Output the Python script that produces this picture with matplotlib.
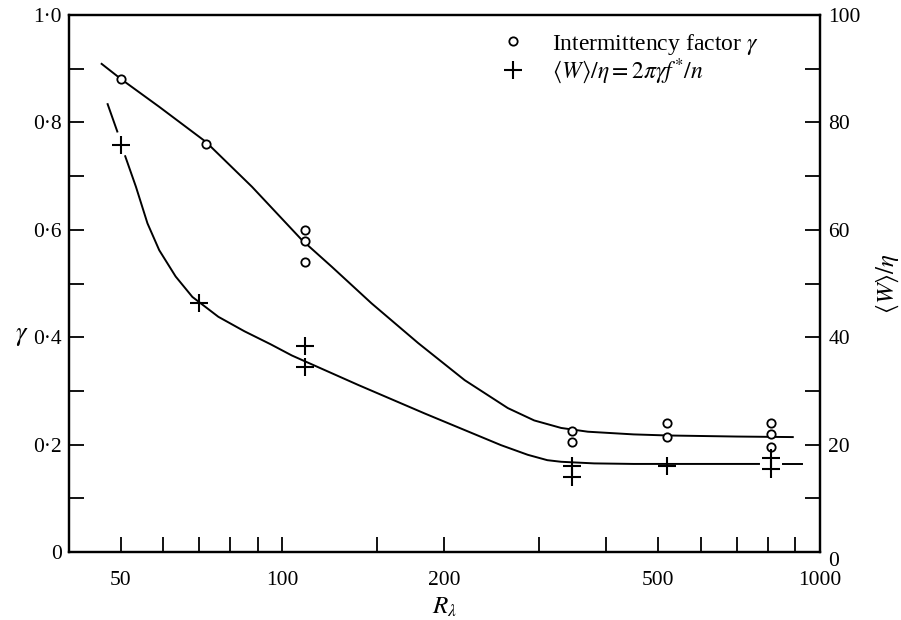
import matplotlib
matplotlib.use("Agg")
import matplotlib.pyplot as plt
from matplotlib.lines import Line2D
from matplotlib.ticker import FixedLocator, NullFormatter

plt.rcParams['font.family'] = ['Liberation Serif', 'DejaVu Serif']
plt.rcParams['mathtext.fontset'] = 'stix'

# measured points
gamma_x = [50, 72, 110, 110, 110, 345, 345, 520, 520, 810, 810, 810]
gamma_y = [0.88, 0.76, 0.60, 0.58, 0.54, 0.225, 0.205, 0.24, 0.215, 0.24, 0.22, 0.195]

w_x = [50, 70, 110, 110, 345, 345, 520, 810, 810]
w_y = [75.8, 46.3, 38.4, 34.5, 16.0, 14.0, 16.0, 17.5, 15.5]

# hand-drawn fitted curves
gamma_curve_x = [46.1, 50.2, 59.0, 72, 87.8, 108.7, 123.6, 146.5, 178.9, 218.3,
                 262.6, 294, 330, 370, 450, 520, 700, 890]
gamma_curve_y = [0.909, 0.880, 0.829, 0.764, 0.680, 0.581, 0.531, 0.463, 0.389, 0.320,
                 0.268, 0.245, 0.231, 0.224, 0.219, 0.217, 0.215, 0.214]

w_curve1_x = [47.3, 49.3]
w_curve1_y = [83.4, 78.3]
w_curve2_x = [51.0, 53.4, 56.1, 59.0, 63.3, 68.0, 76.0, 85.0, 95.0, 104.1, 110.2, 138.4,
              183.9, 255, 286, 311, 330, 380, 450, 600, 770]
w_curve2_y = [73.7, 68.0, 61.2, 56.2, 51.3, 47.5, 43.8, 41.1, 38.7, 36.6, 35.5, 31.1,
              25.8, 19.9, 18.1, 17.1, 16.8, 16.5, 16.4, 16.4, 16.4]
w_curve3_x = [852, 926]
w_curve3_y = [16.4, 16.4]

x_major = [50, 100, 200, 500, 1000]
x_minor = [60, 70, 80, 90, 150, 300, 400, 600, 700, 800, 900]
y_ticks = [0, 0.2, 0.4, 0.6, 0.8, 1.0]
y_labels = ['0', '0·2', '0·4', '0·6', '0·8', '1·0']
r_ticks = [0, 20, 40, 60, 80, 100]

fig = plt.figure(figsize=(9.01, 6.2), dpi=100)
ax = fig.add_axes([68.5 / 901, 68 / 620, (820 - 68.5) / 901, 537 / 620])
ax2 = ax.twinx()

ax.set_xscale('log')
ax.set_xlim(40, 1000)
ax.set_ylim(0, 1.0)
ax2.set_ylim(0, 100)

lw = 1.4
ax.plot(gamma_curve_x, gamma_curve_y, color='black', lw=lw, zorder=2)
ax2.plot(w_curve1_x, w_curve1_y, color='black', lw=lw, zorder=2)
ax2.plot(w_curve2_x, w_curve2_y, color='black', lw=lw, zorder=2)
ax2.plot(w_curve3_x, w_curve3_y, color='black', lw=lw, zorder=2)

ax.plot(gamma_x, gamma_y, 'o', ms=6, mfc='white', mec='black', mew=1.3,
        ls='none', zorder=3)
ax2.plot(w_x, w_y, '+', ms=13, mec='black', mew=1.5, ls='none', zorder=3)

# x axis ticks
ax.xaxis.set_major_locator(FixedLocator(x_major))
ax.xaxis.set_minor_locator(FixedLocator(x_minor))
ax.set_xticklabels([str(v) for v in x_major])
ax.xaxis.set_minor_formatter(NullFormatter())

ax.set_yticks(y_ticks)
ax.set_yticklabels(y_labels)
ax.yaxis.set_minor_locator(FixedLocator([0.1, 0.3, 0.5, 0.7, 0.9]))

ax2.set_yticks(r_ticks)
ax2.set_yticklabels([str(v) for v in r_ticks])
ax2.yaxis.set_minor_locator(FixedLocator([10, 30, 50, 70, 90]))
ax2.get_yticklabels()[0].set_va('top')

for a in (ax, ax2):
    a.tick_params(which='both', direction='in', length=11, width=1.3,
                  labelsize=15.5, top=False)
    for s in a.spines.values():
        s.set_linewidth(1.6)
ax.tick_params(axis='y', which='both', right=False, pad=5)
ax.tick_params(axis='x', which='both', pad=14)
ax2.tick_params(axis='y', which='both', left=False, pad=6)

ax.set_xlabel(r'$R_\lambda$', fontsize=18, labelpad=4)
ax.text(-0.062, 0.4, r'$\gamma$', transform=ax.transAxes, fontsize=19,
        ha='center', va='center')
ax2.set_ylabel(r'$\langle W\rangle/\eta$', fontsize=18, rotation=90, labelpad=10)

handles = [
    Line2D([], [], marker='o', ms=6, mfc='white', mec='black', mew=1.3, ls='none'),
    Line2D([], [], marker='+', ms=13, mec='black', mew=1.5, ls='none'),
]
labels = [r'Intermittency factor $\gamma$', r'$\langle W\rangle/\eta = 2\pi\gamma f^{*}/n$']
ax.legend(handles, labels, loc='upper left', bbox_to_anchor=(0.5755, 0.969),
          frameon=False, fontsize=17, handlelength=1.0, handletextpad=1.15,
          labelspacing=0.0, borderaxespad=0, borderpad=0)

fig.savefig('out.png', dpi=100)
